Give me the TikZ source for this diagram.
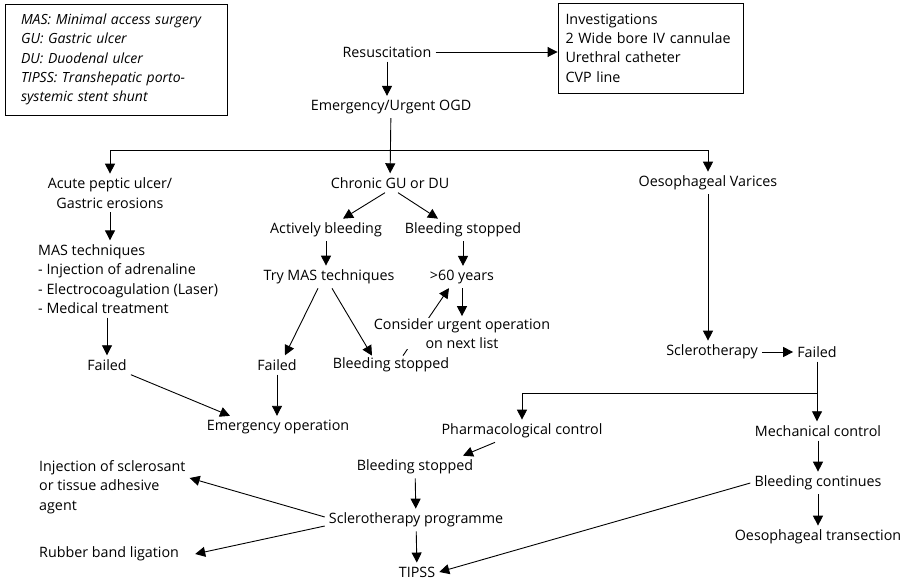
\documentclass[tikz,border=0pt]{standalone}
\usepackage{fontspec}
\setmainfont{Open Sans}
\usepackage{tikz}
\usetikzlibrary{arrows.meta}

\tikzset{
  step txt/.style={inner sep=4pt},
  note box/.style={draw, line width=0.9pt, align=left, inner sep=0pt},
  flow/.style={->, line width=0.9pt}
}

\begin{document}
\begin{tikzpicture}[x=1pt, y=-1pt, font=\fontsize{14.3}{19.3}\selectfont,
    >={Triangle[length=10pt, width=10pt]}]
  \useasboundingbox (0,0) rectangle (907,585);
  % boxes at the top
  \node[note box, minimum width=222pt, minimum height=111pt, text width=190pt,
        font=\fontsize{14}{19.2}\selectfont\itshape] (legend) at (116,59.5)
    {MAS: Minimal access surgery\\GU: Gastric ulcer\\DU: Duodenal ulcer\\
     TIPSS: Transhepatic porto-\\systemic stent shunt};
  \node[note box, minimum width=185pt, minimum height=90pt, text width=170pt] (inv) at (650.5,48)
    {Investigations\\2 Wide bore IV cannulae\\Urethral catheter\\CVP line};
  \node[step txt] (res) at (387,52) {Resuscitation};
  \node[step txt] (ogd) at (391,107) {Emergency/Urgent OGD};
  \coordinate (split) at (390,150);
  % ulcers
  \node[step txt, align=center] (apu) at (110,193) {Acute peptic ulcer/\\Gastric erosions};
  \node[step txt, align=left, anchor=west] (mas) at (34,279)
    {MAS techniques\\- Injection of adrenaline\\- Electrocoagulation (Laser)\\- Medical treatment};
  \node[step txt] (fl1) at (107,365) {Failed};
  \node[step txt] (cgu) at (390,183) {Chronic GU or DU};
  \node[step txt] (ab) at (326,230) {Actively bleeding};
  \node[step txt] (bs1) at (463,230) {Bleeding stopped};
  \node[step txt] (tm) at (329,277) {Try MAS techniques};
  \node[step txt] (age) at (462,277) {>60 years};
  \node[step txt] (fl2) at (277,365) {Failed};
  \node[step txt, inner ysep=2pt] (bs2) at (391,365) {Bleeding stopped};
  \node[step txt] (eo) at (278,427) {Emergency operation};
  % varices
  \node[step txt] (ov) at (708,183) {Oesophageal Varices};
  \node[step txt] (scl) at (712,352) {Sclerotherapy};
  \node[step txt] (fl3) at (817,352) {Failed};
  \coordinate (split2) at (818,393);
  \node[step txt] (pc) at (522,431) {Pharmacological control};
  \node[step txt] (mc) at (818,431) {Mechanical control};
  \node[step txt] (bs3) at (415,467) {Bleeding stopped};
  \node[step txt] (sp) at (416,520) {Sclerotherapy programme};
  \node[step txt] (tip) at (417,572) {TIPSS};
  \node[step txt, align=left, anchor=west] (inj) at (35,487)
    {Injection of sclerosant\\or tissue adhesive\\agent};
  \node[step txt, anchor=west] (rbl) at (35,554) {Rubber band ligation};
  \node[step txt] (bc) at (818,483) {Bleeding continues};
  \node[step txt] (ot) at (818,537) {Oesophageal transection};

  \draw[flow] ([xshift=12pt]bs2.north) -- ([xshift=-13pt]age.south);
  \node[step txt, align=center, fill=white, inner ysep=0pt] (cons) at (462,333.5)
    {Consider urgent operation\\on next list};

  % connectors
  \draw[flow] (res) -- (res -| inv.west);
  \draw[flow] (res) -- (res |- ogd.north);
  \draw[flow] (ogd) -- (cgu);
  \draw[flow] (split) -| (apu);
  \draw[flow] (split) -| (ov);
  \draw[flow] (apu) -- (apu |- mas.north);
  \draw[flow] (mas.south -| fl1) -- (fl1);
  \draw[flow] (fl1.south east) -- ([xshift=-48pt]eo.north);
  \draw[flow] ([xshift=-5pt]cgu.south) -- ([xshift=17pt]ab.north);
  \draw[flow] ([xshift=8pt]cgu.south) -- ([xshift=-25pt]bs1.north);
  \draw[flow] (ab) -- (ab |- tm.north);
  \draw[flow] (bs1) -- (bs1 |- age.north);
  \draw[flow] (age) -- ([yshift=2pt]age |- cons.north);
  \draw[flow] ([xshift=-11pt]tm.south) -- ([xshift=8pt]fl2.north);
  \draw[flow] ([xshift=3pt]tm.south) -- ([xshift=-19pt]bs2.north);
  \draw[flow] (fl2) -- (fl2 |- eo.north);
  \draw[flow] (ov) -- (ov |- scl.north);
  \draw[flow] (scl) -- (fl3);
  \draw[flow] (fl3) -- (fl3 |- mc.north);
  \draw[flow] (split2) -| (pc);
  \draw[flow] ([xshift=-27pt]pc.south) -- ([xshift=48pt]bs3.north);
  \draw[flow] (bs3) -- (sp);
  \draw[flow] (sp) -- (tip);
  \draw[flow] ([yshift=3pt]sp.west) -- ([yshift=9pt]inj.east);
  \draw[flow] ([yshift=-6pt]sp.west) -- ([xshift=12pt]rbl.east);
  \draw[flow] (mc) -- (bc);
  \draw[flow] (bc) -- (ot);
  \draw[flow] (bc.west) -- (tip.east);
\end{tikzpicture}
\end{document}
